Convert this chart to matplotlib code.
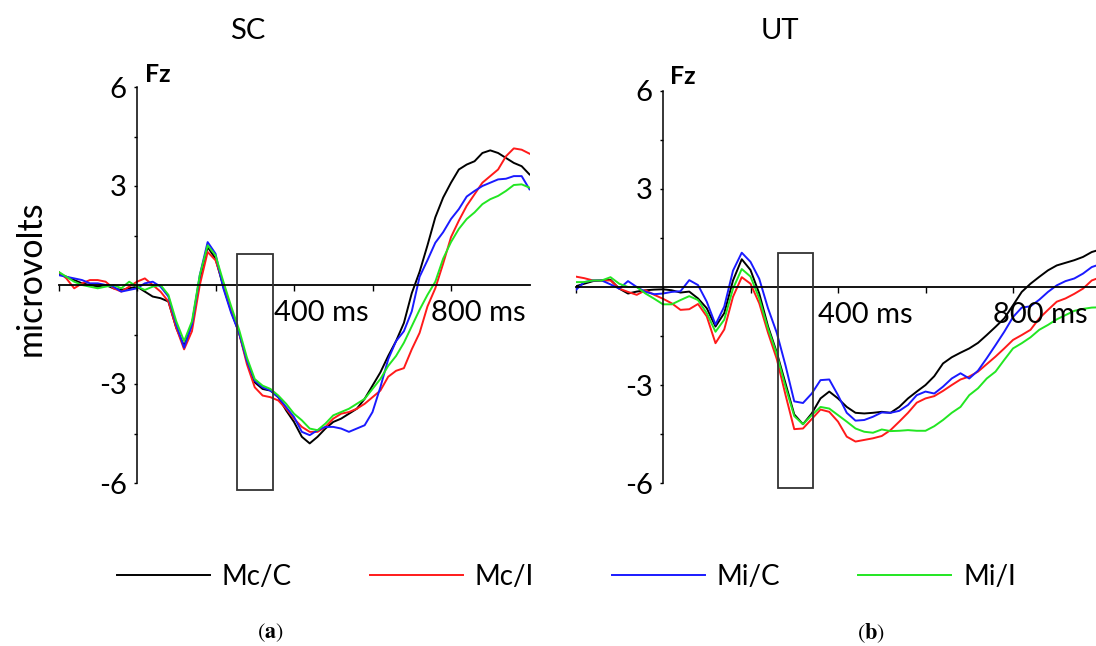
import matplotlib
matplotlib.use("Agg")
import matplotlib.pyplot as plt
from matplotlib.patches import Rectangle

plt.rcParams['font.family'] = ['Lato', 'DejaVu Sans']
plt.rcParams['axes.unicode_minus'] = False
plt.rcParams['mathtext.fontset'] = 'stix'

#%% data (ms, microvolts at Fz)

t = list(range(-200, 1001, 20))
series = ['Mc/C', 'Mc/I', 'Mi/C', 'Mi/I']
colors = ['black', '#ff1a1a', '#1a1aff', '#22e622']

sc_mcc = [0.35, 0.25, 0.15, 0.05, 0.0, -0.05, 0.0, -0.1, -0.15, -0.1,
          -0.05, -0.2, -0.35, -0.4, -0.5, -1.3, -1.85, -1.2, 0.2, 1.15,
          0.8, -0.05, -0.8, -1.45, -2.3, -2.95, -3.15, -3.2, -3.4, -3.8,
          -4.15, -4.6, -4.8, -4.6, -4.35, -4.15, -4.05, -3.9, -3.75, -3.45,
          -3.05, -2.65, -2.15, -1.7, -1.15, -0.25, 0.4, 1.2, 2.05, 2.65,
          3.1, 3.5, 3.65, 3.75, 4.0, 4.08, 4.0, 3.85, 3.7, 3.6, 3.35]
sc_mci = [0.4, 0.2, -0.1, 0.05, 0.15, 0.15, 0.1, -0.1, -0.2, -0.05,
          0.1, 0.2, 0.0, -0.2, -0.5, -1.3, -1.95, -1.4, 0.0, 1.0,
          0.75, 0.05, -0.75, -1.45, -2.4, -3.1, -3.35, -3.4, -3.5, -3.75,
          -4.05, -4.3, -4.45, -4.45, -4.3, -4.05, -3.9, -3.85, -3.75, -3.6,
          -3.4, -3.2, -2.78, -2.6, -2.52, -1.95, -1.45, -0.65, -0.1, 0.65,
          1.45, 1.95, 2.4, 2.75, 3.1, 3.3, 3.5, 3.9, 4.14, 4.1, 3.98]
sc_mic = [0.3, 0.25, 0.2, 0.15, 0.05, 0.05, 0.0, -0.05, -0.2, -0.15,
          -0.1, 0.05, 0.1, -0.05, -0.35, -1.2, -1.9, -1.2, 0.3, 1.3,
          0.95, -0.1, -0.85, -1.45, -2.3, -2.9, -3.1, -3.2, -3.4, -3.7,
          -4.0, -4.45, -4.55, -4.4, -4.3, -4.3, -4.35, -4.45, -4.35, -4.25,
          -3.85, -3.1, -2.25, -1.7, -1.4, -0.8, 0.25, 0.75, 1.28, 1.6,
          2.0, 2.3, 2.68, 2.85, 3.0, 3.1, 3.2, 3.22, 3.3, 3.3, 2.9]
sc_mii = [0.4, 0.25, 0.1, 0.0, -0.05, -0.1, -0.05, 0.0, -0.1, 0.1,
          -0.05, -0.15, -0.05, 0.0, -0.3, -1.1, -1.7, -1.1, 0.3, 1.2,
          0.9, 0.1, -0.65, -1.35, -2.2, -2.85, -3.05, -3.15, -3.35, -3.6,
          -3.9, -4.1, -4.35, -4.4, -4.2, -3.95, -3.85, -3.75, -3.6, -3.45,
          -3.15, -2.85, -2.45, -2.15, -1.75, -1.25, -0.75, -0.3, 0.1, 0.8,
          1.3, 1.7, 2.0, 2.2, 2.45, 2.6, 2.7, 2.85, 3.03, 3.05, 2.95]

ut_mcc = [0.02, 0.1, 0.18, 0.2, 0.22, -0.05, -0.2, -0.14, -0.1, -0.08,
          -0.07, -0.1, -0.17, -0.14, -0.35, -0.65, -1.21, -0.8, 0.2, 0.85,
          0.52, -0.2, -1.2, -2.0, -2.95, -3.9, -4.2, -3.87, -3.41, -3.2,
          -3.41, -3.67, -3.85, -3.87, -3.85, -3.82, -3.85, -3.67, -3.41, -3.2,
          -3.0, -2.73, -2.34, -2.15, -2.01, -1.88, -1.71, -1.47, -1.22, -0.96,
          -0.56, -0.15, 0.1, 0.31, 0.51, 0.66, 0.74, 0.82, 0.92, 1.07, 1.15]
ut_mci = [0.32, 0.27, 0.2, 0.2, 0.2, -0.05, -0.15, -0.24, -0.1, -0.24,
          -0.36, -0.5, -0.7, -0.68, -0.52, -0.9, -1.72, -1.3, -0.3, 0.3,
          0.1, -0.5, -1.4, -2.2, -3.3, -4.35, -4.33, -4.04, -3.75, -3.82,
          -4.12, -4.58, -4.73, -4.68, -4.63, -4.56, -4.38, -4.12, -3.85, -3.54,
          -3.41, -3.34, -3.18, -3.0, -2.83, -2.74, -2.59, -2.36, -2.13, -1.88,
          -1.62, -1.47, -1.31, -0.96, -0.7, -0.45, -0.35, -0.21, -0.05, 0.2, 0.3]
ut_mic = [-0.1, 0.15, 0.2, 0.2, 0.08, -0.05, 0.18, 0.0, -0.15, -0.22,
          -0.2, -0.15, -0.13, 0.21, 0.06, -0.45, -1.15, -0.6, 0.5, 1.05,
          0.77, 0.25, -0.65, -1.4, -2.4, -3.5, -3.55, -3.26, -2.85, -2.83,
          -3.31, -3.85, -4.09, -4.07, -3.97, -3.84, -3.85, -3.79, -3.61, -3.31,
          -3.2, -3.26, -3.05, -2.8, -2.64, -2.8, -2.56, -2.18, -1.78, -1.37,
          -0.92, -0.63, -0.59, -0.39, -0.15, 0.05, 0.18, 0.26, 0.41, 0.61, 0.7]
ut_mii = [0.15, 0.15, 0.2, 0.2, 0.3, 0.1, 0.0, 0.0, -0.2, -0.36,
          -0.53, -0.53, -0.4, -0.28, -0.4, -0.8, -1.37, -1.0, -0.05, 0.55,
          0.32, -0.35, -1.27, -2.05, -3.05, -3.95, -4.2, -3.92, -3.67, -3.72,
          -3.92, -4.12, -4.33, -4.43, -4.46, -4.36, -4.41, -4.4, -4.38, -4.4,
          -4.4, -4.26, -4.07, -3.85, -3.67, -3.31, -3.1, -2.8, -2.59, -2.23,
          -1.88, -1.72, -1.54, -1.31, -1.16, -0.99, -0.86, -0.73, -0.67, -0.63, -0.62]

# analysis window (ms, uV)
sc_win = [255, 346, -6.2, 0.95]
ut_win = [262, 343, -6.15, 1.04]

#%% figure

W, H = 1096, 646
fig = plt.figure(figsize=(W / 100, H / 100), dpi=100)


def px_axes(x0, x1, ytop, ybot):
    return fig.add_axes([x0 / W, 1 - ybot / H, (x1 - x0) / W, (ybot - ytop) / H])


def panel(ax, data, win):
    for ys, c, lab in zip(data, colors, series):
        ax.plot(t, ys, color=c, lw=1.4, label=lab)
    ax.add_patch(Rectangle((win[0], win[2]), win[1] - win[0], win[3] - win[2],
                           fill=False, ec='#333333', lw=1.3, zorder=3))
    ax.set_xlim(-200, 1000)
    ax.set_ylim(-6.5, 6.5)
    for s in ['top', 'right']:
        ax.spines[s].set_visible(False)
    ax.spines['left'].set_position(('data', 0))
    ax.spines['left'].set_bounds(-6, 6)
    ax.spines['left'].set_linewidth(1.1)
    ax.spines['bottom'].set_position(('data', 0))
    ax.spines['bottom'].set_linewidth(1.3)
    ax.set_yticks([-6, -3, 3, 6])
    ax.set_yticklabels(['-6', '-3', '3', '6'])
    ax.set_yticks([-4.5, -1.5, 1.5, 4.5], minor=True)
    ax.tick_params(axis='y', which='both', direction='out', length=2.5,
                   width=1, labelsize=21, pad=5)
    ax.set_xticks([-200, 0, 200, 400, 600, 800])
    ax.set_xticklabels([])
    ax.tick_params(axis='x', direction='out', length=4.5, width=1)
    for tk in [400, 800]:
        ax.annotate(f'{tk} ms', xy=(tk, 0), xytext=(-14.5, -20),
                    textcoords='offset points', ha='left', va='center',
                    fontsize=21)


ax1 = px_axes(58.5, 529.5, 70.5, 499.5)
panel(ax1, [sc_mcc, sc_mci, sc_mic, sc_mii], sc_win)

ax2 = px_axes(575.5, 1100.5, 74.6, 499.4)
panel(ax2, [ut_mcc, ut_mci, ut_mic, ut_mii], ut_win)

fig.text(248 / W, 1 - 31 / H, 'SC', ha='center', va='center', fontsize=21)
fig.text(780 / W, 1 - 31 / H, 'UT', ha='center', va='center', fontsize=21)
fig.text(145 / W, 1 - 75 / H, 'Fz', ha='left', va='center', fontsize=18, weight='bold')
fig.text(670 / W, 1 - 77 / H, 'Fz', ha='left', va='center', fontsize=18, weight='bold')
fig.text(31 / W, 1 - 278 / H, 'microvolts', ha='center', va='center',
         rotation=90, fontsize=24.5)

handles, labels = ax1.get_legend_handles_labels()
fig.legend(handles, labels, loc='center left', bbox_to_anchor=(117 / W, 1 - 577 / H),
           ncol=4, frameon=False, fontsize=20, handlelength=3.35,
           handletextpad=0.43, columnspacing=2.8, borderpad=0, borderaxespad=0)

fig.text(270 / W, 1 - 633 / H, r'$\mathrm{(}\mathbf{a}\mathrm{)}$', ha='center',
         va='center', fontsize=16)
fig.text(871 / W, 1 - 633 / H, r'$\mathrm{(}\mathbf{b}\mathrm{)}$', ha='center',
         va='center', fontsize=16)

fig.savefig('out.png', dpi=100)
